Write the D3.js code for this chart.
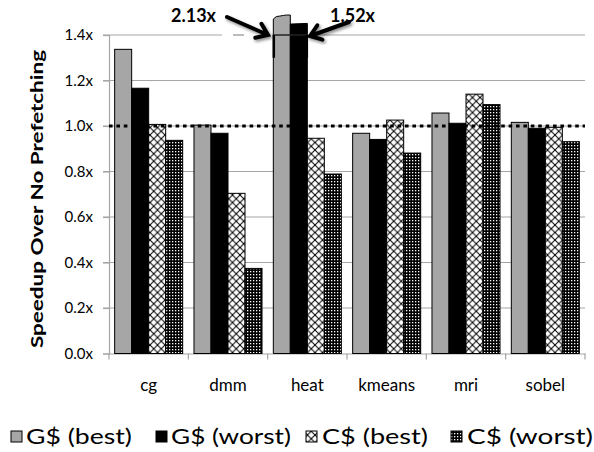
<!DOCTYPE html>
<html><head><meta charset="utf-8">
<script src="https://cdn.jsdelivr.net/npm/d3@7"></script>
<style>body{margin:0;background:#fff} svg{display:block}</style>
</head><body><svg id="c" width="594" height="452"></svg>
<script>
const categories = ["cg", "dmm", "heat", "kmeans", "mri", "sobel"];
const seriesNames = ["G$ (best)", "G$ (worst)", "C$ (best)", "C$ (worst)"];
const gBest  = [1.337, 1.004, 2.13, 0.968, 1.057, 1.016];
const gWorst = [1.166, 0.968, 1.52, 0.941, 1.012, 0.990];
const cBest  = [1.007, 0.704, 0.946, 1.026, 1.140, 0.994];
const cWorst = [0.937, 0.374, 0.789, 0.881, 1.094, 0.931];
const yTicks = [0, 0.2, 0.4, 0.6, 0.8, 1.0, 1.2, 1.4];
const yTickLabels = ["0.0x", "0.2x", "0.4x", "0.6x", "0.8x", "1.0x", "1.2x", "1.4x"];
const yTitle = "Speedup Over No Prefetching";
const referenceLine = 1.0;
const annotationLabels = ["2.13x", "1.52x"];

const seriesValues = [gBest, gWorst, cBest, cWorst];
const FONT = "Lato, 'Open Sans', sans-serif";
const svg = d3.select("#c");
const defs = svg.append("defs");

// patterns
const pc = defs.append("pattern").attr("id", "cross").attr("patternUnits", "userSpaceOnUse")
  .attr("width", 7.5).attr("height", 7.5);
pc.append("rect").attr("width", 7.5).attr("height", 7.5).attr("fill", "#fff");
pc.append("path").attr("d", "M0,0L7.5,7.5M7.5,0L0,7.5").attr("stroke", "#000").attr("stroke-width", 1);
const pd = defs.append("pattern").attr("id", "dots").attr("patternUnits", "userSpaceOnUse")
  .attr("width", 3).attr("height", 3);
pd.append("rect").attr("width", 3).attr("height", 3).attr("fill", "#000");
pd.append("rect").attr("x", 1).attr("y", 1).attr("width", 1.3).attr("height", 1.3).attr("fill", "#fff");
const sh = defs.append("filter").attr("id", "shadow").attr("x", "-30%").attr("y", "-30%").attr("width", "160%").attr("height", "160%");
sh.append("feDropShadow").attr("dx", 1.5).attr("dy", 2).attr("stdDeviation", 1.5).attr("flood-color", "#000").attr("flood-opacity", 0.45);

const fills = ["#a6a6a6", "#000", "url(#cross)", "url(#dots)"];

const x0 = d3.scaleBand().domain(categories).range([109, 585]);
const x1 = d3.scaleBand().domain(seriesNames).range([0, x0.bandwidth()]).paddingOuter(0.332).paddingInner(0);
const y = d3.scaleLinear().domain([0, 1.4]).range([353.5, 35]);

// gridlines
svg.append("g").selectAll("line").data(yTicks.slice(1)).join("line")
  .attr("x1", 103).attr("x2", 585).attr("y1", d => y(d)).attr("y2", d => y(d))
  .attr("stroke", "#a6a6a6").attr("stroke-width", 1.2);

// left axis
const yAxis = d3.axisLeft(y).tickValues(yTicks).tickFormat((d, i) => yTickLabels[i]).tickSize(6).tickPadding(10);
const ga = svg.append("g").attr("transform", "translate(109,0)").call(yAxis);
ga.select(".domain").attr("stroke", "#a6a6a6").attr("stroke-width", 1.2);
ga.selectAll(".tick line").attr("stroke", "#a6a6a6").attr("stroke-width", 1.2);
ga.selectAll("text").attr("font-family", FONT).attr("font-size", 15).attr("fill", "#000");

// bottom axis
const xAxis = d3.axisBottom(x0).tickSize(0).tickPadding(0);
const gb = svg.append("g").attr("transform", `translate(0,${y(0)})`).call(xAxis);
gb.select(".domain").attr("stroke", "#a6a6a6").attr("stroke-width", 1.2);
gb.selectAll("text").attr("font-family", FONT).attr("font-size", 17).attr("fill", "#000").attr("dy", 0).attr("y", 37);
const bounds = categories.map(c => x0(c)).concat([x0(categories[categories.length - 1]) + x0.bandwidth()]);
gb.selectAll(".sep").data(bounds).join("line").attr("class", "sep")
  .attr("x1", d => d).attr("x2", d => d).attr("y1", 0).attr("y2", 6)
  .attr("stroke", "#a6a6a6").attr("stroke-width", 1.2);

// bars (off-scale bars are drawn broken at these display tops)
const capTop = [1.47, 1.448];
const bars = [];
categories.forEach((c, ci) => seriesNames.forEach((s, si) => {
  bars.push({ c, s, si, v: seriesValues[si][ci] });
}));
const gbars = svg.append("g");
bars.forEach(b => {
  const bx = x0(b.c) + x1(b.s), bw = x1.bandwidth();
  if (b.v > 1.4) {
    const top = y(capTop[b.si]);
    let d;
    if (b.si === 0) {
      d = `M${bx},${y(0)}L${bx},${top}L${bx + 3},${top - 2.5}C${bx + 8},${top - 3} ${bx + 12},${top - 4.5} ${bx + bw},${top - 4}L${bx + bw},${y(0)}Z`;
    } else {
      d = `M${bx},${y(0)}L${bx},${top}L${bx + bw},${top - 0.7}L${bx + bw},${y(0)}Z`;
    }
    gbars.append("path").attr("d", d).attr("fill", fills[b.si]).attr("stroke", "#000").attr("stroke-width", 1);
  } else {
    gbars.append("rect").attr("x", bx).attr("y", y(b.v)).attr("width", bw).attr("height", y(0) - y(b.v))
      .attr("fill", fills[b.si]).attr("stroke", "#000").attr("stroke-width", 1);
  }
});

// break marks on heat bars
const hx = x0("heat") + x1(seriesNames[0]);
const hw = x1.bandwidth() * 2;
svg.append("line").attr("x1", hx).attr("x2", hx + hw).attr("y1", y(1.4)).attr("y2", y(1.4)).attr("stroke", "#222").attr("stroke-width", 1.5);
svg.append("line").attr("x1", hx + 0.5).attr("x2", hx + 0.5).attr("y1", y(1.4)).attr("y2", y(1.3)).attr("stroke", "#000").attr("stroke-width", 2.5);
svg.append("line").attr("x1", hx + hw - 0.5).attr("x2", hx + hw - 0.5).attr("y1", y(1.4)).attr("y2", y(1.3)).attr("stroke", "#000").attr("stroke-width", 2.5);

// reference line at 1.0
svg.append("line").attr("x1", 109).attr("x2", 585).attr("y1", y(referenceLine)).attr("y2", y(referenceLine))
  .attr("stroke", "#000").attr("stroke-width", 3.2).attr("stroke-dasharray", "3.6,3.8");

// hide part of the top gridline near the arrow, keep a small dash
svg.append("rect").attr("x", 222).attr("y", y(1.4) - 2).attr("width", 50).attr("height", 4).attr("fill", "#fff");
svg.append("line").attr("x1", 233).attr("x2", 244).attr("y1", y(1.4)).attr("y2", y(1.4)).attr("stroke", "#a6a6a6").attr("stroke-width", 1.5);

// annotations
svg.append("text").attr("x", 216).attr("y", 22).attr("text-anchor", "end")
  .attr("font-family", FONT).attr("font-weight", "bold").attr("font-size", 18).text(annotationLabels[0]);
svg.append("text").attr("x", 330).attr("y", 22).attr("text-anchor", "start")
  .attr("font-family", FONT).attr("font-weight", "bold").attr("font-size", 18).text(annotationLabels[1]);

function arrow(x1a, y1a, x2a, y2a) {
  const ang = Math.atan2(y2a - y1a, x2a - x1a);
  const L = 13, a = Math.PI / 5;
  const p1 = [x2a - L * Math.cos(ang - a), y2a - L * Math.sin(ang - a)];
  const p2 = [x2a - L * Math.cos(ang + a), y2a - L * Math.sin(ang + a)];
  svg.append("path").attr("d", `M${x1a},${y1a}L${x2a},${y2a}M${p1[0]},${p1[1]}L${x2a},${y2a}L${p2[0]},${p2[1]}`)
    .attr("fill", "none").attr("stroke", "#000").attr("stroke-width", 4).attr("stroke-linecap", "round")
    .attr("stroke-linejoin", "miter").attr("filter", "url(#shadow)");
}
arrow(227, 17, 268, 35);
arrow(349, 22, 310, 36);

// y title
svg.append("text").attr("transform", "translate(43,199) rotate(-90)").attr("text-anchor", "middle")
  .attr("font-family", FONT).attr("font-weight", "bold").attr("font-size", 17)
  .attr("textLength", 298).attr("lengthAdjust", "spacingAndGlyphs").text(yTitle);

// legend
const legX = [11, 156, 306, 451];
const legTextX = [26, 171, 322, 467];
const legW = [106, 120, 106, 126];
seriesNames.forEach((s, i) => {
  svg.append("rect").attr("x", legX[i]).attr("y", 431).attr("width", 11).attr("height", 11)
    .attr("fill", fills[i]).attr("stroke", "#000").attr("stroke-width", 1);
  svg.append("text").attr("x", legTextX[i]).attr("y", 444).attr("font-family", FONT).attr("font-size", 21)
    .attr("textLength", legW[i]).attr("lengthAdjust", "spacingAndGlyphs").text(s);
});
</script></body></html>
